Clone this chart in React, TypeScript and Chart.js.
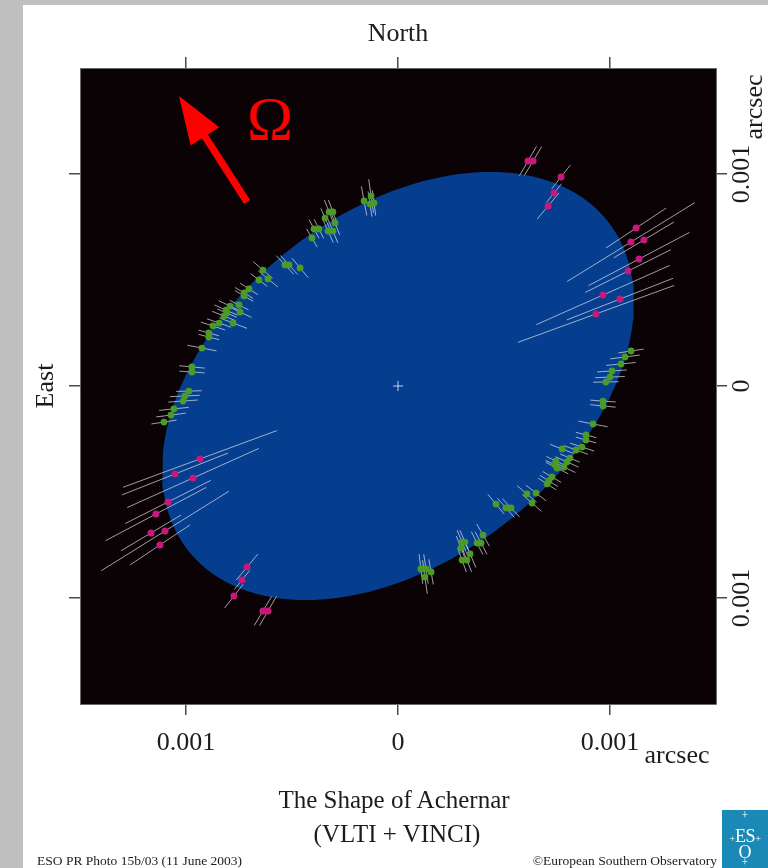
import React, { useEffect, useRef } from 'react';
import { Chart, registerables } from 'chart.js';

Chart.register(...registerables);

// ---- Axes (milli-arcsec internally, labels in arcsec) ----
const AXIS_MIN = -1.5;
const AXIS_MAX = 1.5;
const TICK_VALUES = [-1, 0, 1];
const TICK_LABELS = ['0.001', '0', '0.001'];

// ---- Fitted ellipse of Achernar (mas) ----
const ELLIPSE_SEMI_MAJOR = 1.258;
const ELLIPSE_SEMI_MINOR = 0.822;
const ELLIPSE_ANGLE_DEG = 38;
const ELLIPSE_STEPS = 180;

// ---- Measured limb points: [x, y, error] in mas ----
const MAGENTA_POINTS: [number, number, number][] = [
  [0.613, 1.061, 0.080], [0.637, 1.061, 0.080], [0.769, 0.986, 0.071],
  [0.736, 0.910, 0.057], [0.708, 0.849, 0.080], [1.123, 0.745, 0.170],
  [1.099, 0.679, 0.354], [1.160, 0.689, 0.165], [1.137, 0.599, 0.269],
  [1.085, 0.542, 0.226], [0.967, 0.429, 0.344], [1.047, 0.410, 0.269],
  [0.934, 0.340, 0.392],
  [-0.637, -1.061, 0.080], [-0.613, -1.061, 0.080], [-0.774, -0.991, 0.071],
  [-0.736, -0.915, 0.057], [-0.712, -0.854, 0.080], [-1.123, -0.750, 0.170],
  [-1.099, -0.684, 0.354], [-1.165, -0.693, 0.165], [-1.142, -0.604, 0.269],
  [-1.085, -0.547, 0.226], [-0.967, -0.434, 0.340], [-1.052, -0.415, 0.269],
  [-0.934, -0.344, 0.387],
];

const GREEN_POINTS: [number, number, number][] = [
  [-0.160, 0.873, 0.070], [-0.127, 0.896, 0.080], [-0.132, 0.858, 0.060], [-0.113, 0.863, 0.060],
  [-0.325, 0.821, 0.060], [-0.307, 0.821, 0.060], [-0.344, 0.792, 0.050], [-0.297, 0.769, 0.060],
  [-0.330, 0.731, 0.060], [-0.307, 0.731, 0.060], [-0.396, 0.741, 0.050], [-0.373, 0.741, 0.050],
  [-0.406, 0.698, 0.050], [-0.533, 0.571, 0.060], [-0.514, 0.571, 0.060], [-0.462, 0.557, 0.060],
  [-0.637, 0.547, 0.060], [-0.656, 0.500, 0.050], [-0.613, 0.505, 0.060], [-0.703, 0.458, 0.050],
  [-0.726, 0.439, 0.050], [-0.726, 0.425, 0.050], [-0.792, 0.377, 0.060], [-0.750, 0.382, 0.050],
  [-0.811, 0.358, 0.060], [-0.807, 0.344, 0.050], [-0.745, 0.349, 0.060], [-0.821, 0.330, 0.060],
  [-0.844, 0.297, 0.060], [-0.778, 0.297, 0.070], [-0.873, 0.283, 0.060], [-0.892, 0.250, 0.050],
  [-0.892, 0.231, 0.050], [-0.925, 0.179, 0.070], [-0.972, 0.090, 0.060], [-0.972, 0.066, 0.060],
  [-0.986, -0.024, 0.060], [-1.005, -0.047, 0.070], [-1.014, -0.071, 0.070], [-1.057, -0.108, 0.070],
  [-1.071, -0.137, 0.070], [-1.104, -0.170, 0.060],
  [1.099, 0.165, 0.060], [1.071, 0.137, 0.070], [1.052, 0.104, 0.070], [1.009, 0.071, 0.070],
  [1.000, 0.042, 0.070], [0.981, 0.019, 0.060], [0.967, -0.071, 0.060], [0.967, -0.094, 0.060],
  [0.920, -0.179, 0.070], [0.887, -0.231, 0.050], [0.887, -0.255, 0.050], [0.868, -0.288, 0.060],
  [0.840, -0.302, 0.060], [0.774, -0.297, 0.060], [0.811, -0.340, 0.050], [0.797, -0.358, 0.060],
  [0.745, -0.354, 0.050], [0.741, -0.373, 0.050], [0.750, -0.387, 0.060], [0.783, -0.382, 0.060],
  [0.726, -0.429, 0.050], [0.712, -0.448, 0.050], [0.703, -0.462, 0.050], [0.651, -0.505, 0.060],
  [0.608, -0.509, 0.060], [0.632, -0.552, 0.060], [0.462, -0.557, 0.060], [0.509, -0.575, 0.060],
  [0.533, -0.575, 0.060], [0.401, -0.703, 0.060], [0.373, -0.741, 0.060], [0.392, -0.741, 0.060],
  [0.316, -0.736, 0.060], [0.302, -0.736, 0.060], [0.297, -0.764, 0.060], [0.340, -0.792, 0.070],
  [0.302, -0.821, 0.060], [0.325, -0.821, 0.060], [0.108, -0.863, 0.070], [0.132, -0.863, 0.070],
  [0.156, -0.877, 0.060], [0.127, -0.901, 0.080],
];

const CENTER_POINT = [{ x: 0, y: 0 }];

// rotation axis arrow (mas) and Omega label
const ARROW_TAIL = { x: -0.712, y: 0.868 };
const ARROW_TIP = { x: -1.033, y: 1.368 };
const OMEGA_POS = { x: -0.604, y: 1.165 };

const SERIF = '"Liberation Serif", "Times New Roman", serif';
const TEXT_COLOR = '#1c1c1c';
const PLOT_BG = 'rgb(10,2,4)';
const STAR_BLUE = 'rgb(5,62,142)';
const GREEN = 'rgb(76,155,40)';
const MAGENTA = 'rgb(200,24,122)';
const BAR_COLOR = 'rgba(232,228,234,0.68)';

function ellipseData() {
  const th = (ELLIPSE_ANGLE_DEG * Math.PI) / 180;
  const pts: { x: number; y: number }[] = [];
  for (let i = 0; i <= ELLIPSE_STEPS; i++) {
    const t = (2 * Math.PI * i) / ELLIPSE_STEPS;
    const u = ELLIPSE_SEMI_MAJOR * Math.cos(t);
    const v = ELLIPSE_SEMI_MINOR * Math.sin(t);
    pts.push({ x: u * Math.cos(th) - v * Math.sin(th), y: u * Math.sin(th) + v * Math.cos(th) });
  }
  return pts;
}

function errorBarData() {
  const out: { x: number | null; y: number | null }[] = [];
  [...MAGENTA_POINTS, ...GREEN_POINTS].forEach(([x, y, e]) => {
    const r = Math.hypot(x, y);
    const ux = x / r;
    const uy = y / r;
    out.push({ x: x - e * ux, y: y - e * uy });
    out.push({ x: x + e * ux, y: y + e * uy });
    out.push({ x: null, y: null });
  });
  return out;
}

const tickLabel = (v: number | string) => {
  const i = TICK_VALUES.indexOf(Number(v));
  return i >= 0 ? TICK_LABELS[i] : '';
};

const setTicks = (s: any) => {
  s.ticks = TICK_VALUES.map((v) => ({ value: v }));
};

const gridOpts = {
  drawOnChartArea: false,
  drawTicks: true,
  tickLength: 11,
  color: '#4a4a4a',
  lineWidth: 1.5,
};
const borderOpts = { display: true, color: '#6a6a6a', width: 1 };

const decorPlugin = {
  id: 'decor',
  beforeDraw(chart: any) {
    const { ctx, chartArea } = chart;
    ctx.save();
    ctx.fillStyle = PLOT_BG;
    ctx.fillRect(chartArea.left, chartArea.top, chartArea.right - chartArea.left, chartArea.bottom - chartArea.top);
    ctx.restore();
  },
  afterDraw(chart: any) {
    const { ctx } = chart;
    const xs = chart.scales.x;
    const ys = chart.scales.y;
    const y2 = chart.scales.y2;

    // rotation-axis arrow
    const tx = xs.getPixelForValue(ARROW_TAIL.x);
    const ty = ys.getPixelForValue(ARROW_TAIL.y);
    const hx = xs.getPixelForValue(ARROW_TIP.x);
    const hy = ys.getPixelForValue(ARROW_TIP.y);
    const ang = Math.atan2(hy - ty, hx - tx);
    const len = Math.hypot(hx - tx, hy - ty);
    const headLen = 50;
    const headHalf = 17;
    const shaftHalf = 3.6;
    ctx.save();
    ctx.translate(tx, ty);
    ctx.rotate(ang);
    ctx.fillStyle = '#ff0000';
    ctx.beginPath();
    ctx.moveTo(0, -shaftHalf);
    ctx.lineTo(len - headLen + 2, -shaftHalf);
    ctx.lineTo(len - headLen + 2, -headHalf);
    ctx.lineTo(len, 0);
    ctx.lineTo(len - headLen + 2, headHalf);
    ctx.lineTo(len - headLen + 2, shaftHalf);
    ctx.lineTo(0, shaftHalf);
    ctx.closePath();
    ctx.fill();
    ctx.restore();

    // Omega
    ctx.save();
    ctx.fillStyle = '#ff0000';
    ctx.font = `62px ${SERIF}`;
    ctx.textAlign = 'center';
    ctx.textBaseline = 'alphabetic';
    ctx.fillText('Ω', xs.getPixelForValue(OMEGA_POS.x), ys.getPixelForValue(OMEGA_POS.y));
    ctx.restore();

    // rotated right-hand tick labels
    ctx.save();
    ctx.fillStyle = TEXT_COLOR;
    ctx.font = `26px ${SERIF}`;
    ctx.textAlign = 'center';
    ctx.textBaseline = 'middle';
    TICK_VALUES.forEach((v, i) => {
      ctx.save();
      ctx.translate(y2.left + 26, y2.getPixelForValue(v));
      ctx.rotate(-Math.PI / 2);
      ctx.fillText(TICK_LABELS[i], 0, 0);
      ctx.restore();
    });
    ctx.save();
    ctx.translate(y2.left + 39, chart.chartArea.top + 39);
    ctx.rotate(-Math.PI / 2);
    ctx.fillText('arcsec', 0, 0);
    ctx.restore();
    ctx.restore();
  },
};

function AchernarChart() {
  const ref = useRef<HTMLCanvasElement | null>(null);
  useEffect(() => {
    if (!ref.current) return;
    const tickFont = { family: SERIF, size: 26 };
    const chart = new Chart(ref.current, {
      type: 'scatter',
      data: {
        datasets: [
          {
            label: 'Magenta',
            data: MAGENTA_POINTS.map(([x, y]) => ({ x, y })),
            backgroundColor: MAGENTA,
            borderWidth: 0,
            pointRadius: 3.5,
            order: 0,
          },
          {
            label: 'Green',
            data: GREEN_POINTS.map(([x, y]) => ({ x, y })),
            backgroundColor: GREEN,
            borderWidth: 0,
            pointRadius: 3.4,
            order: 1,
          },
          {
            label: 'Centre',
            data: CENTER_POINT,
            pointStyle: 'cross',
            pointRadius: 5,
            borderColor: 'rgba(210,225,245,0.9)',
            borderWidth: 1,
            order: 2,
          },
          {
            label: 'Errors',
            data: errorBarData() as any,
            showLine: true,
            spanGaps: false,
            borderColor: BAR_COLOR,
            borderWidth: 1,
            pointRadius: 0,
            order: 3,
          },
          {
            label: 'Ellipse',
            data: ellipseData(),
            showLine: true,
            fill: 'shape',
            backgroundColor: STAR_BLUE,
            borderColor: STAR_BLUE,
            borderWidth: 0,
            pointRadius: 0,
            order: 4,
          } as any,
        ],
      },
      options: {
        animation: false,
        responsive: false,
        devicePixelRatio: 1,
        layout: { padding: 0 },
        plugins: { legend: { display: false }, tooltip: { enabled: false }, title: { display: false } },
        scales: {
          x: {
            type: 'linear',
            position: 'bottom',
            min: AXIS_MIN,
            max: AXIS_MAX,
            display: true,
            afterBuildTicks: setTicks,
            afterFit: (s: any) => { s.height = 164; },
            ticks: { callback: tickLabel, font: tickFont, color: TEXT_COLOR, padding: 13, maxRotation: 0, autoSkip: false },
            grid: gridOpts,
            border: borderOpts,
          },
          x2: {
            type: 'linear',
            position: 'top',
            min: AXIS_MIN,
            max: AXIS_MAX,
            display: true,
            afterBuildTicks: setTicks,
            afterFit: (s: any) => { s.height = 68; },
            ticks: { callback: () => '', font: tickFont, padding: 0 },
            grid: gridOpts,
            border: borderOpts,
            title: { display: true, text: 'North', font: tickFont, color: TEXT_COLOR, padding: { top: 19, bottom: 0 } },
          },
          y: {
            type: 'linear',
            position: 'left',
            min: AXIS_MIN,
            max: AXIS_MAX,
            display: true,
            afterBuildTicks: setTicks,
            afterFit: (s: any) => { s.width = 80; },
            ticks: { callback: () => '', font: tickFont, padding: 0 },
            grid: gridOpts,
            border: borderOpts,
            title: { display: true, text: 'East', font: tickFont, color: TEXT_COLOR, padding: { top: 31, bottom: 0 } },
          },
          y2: {
            type: 'linear',
            position: 'right',
            min: AXIS_MIN,
            max: AXIS_MAX,
            display: true,
            afterBuildTicks: setTicks,
            afterFit: (s: any) => { s.width = 52; },
            ticks: { callback: () => '', font: tickFont, padding: 0 },
            grid: gridOpts,
            border: borderOpts,
          },
        },
      },
      plugins: [decorPlugin],
    } as any);
    return () => chart.destroy();
  }, []);
  return (
    <canvas
      ref={ref}
      width={768}
      height={868}
      style={{ position: 'absolute', left: 0, top: 0, width: 768, height: 868 }}
    />
  );
}

const txt = (extra: React.CSSProperties): React.CSSProperties => ({
  position: 'absolute',
  fontFamily: SERIF,
  color: TEXT_COLOR,
  lineHeight: 1,
  whiteSpace: 'nowrap',
  ...extra,
});

const logoLine = (top: number, size: number): React.CSSProperties => ({
  position: 'absolute',
  left: 0,
  width: 46,
  top,
  textAlign: 'center',
  fontSize: size,
  lineHeight: `${size}px`,
});

export default function App() {
  return (
    <div style={{ position: 'fixed', left: 0, top: 0, width: 768, height: 868, background: '#c0c0c0', overflow: 'hidden' }}>
      <div style={{ position: 'absolute', left: 23, top: 5, width: 745, height: 863, background: '#ffffff' }} />
      <AchernarChart />
      <div style={txt({ left: 677, top: 742, fontSize: 26, transform: 'translateX(-50%)' })}>arcsec</div>
      <div style={txt({ left: 394, top: 787, fontSize: 25, transform: 'translateX(-50%)' })}>The Shape of Achernar</div>
      <div style={txt({ left: 397, top: 821, fontSize: 25, transform: 'translateX(-50%)' })}>(VLTI + VINCI)</div>
      <div style={txt({ left: 37, top: 854, fontSize: 13.5 })}>ESO PR Photo 15b/03 (11 June 2003)</div>
      <div style={txt({ right: 51, top: 854, fontSize: 13.5 })}>©European Southern Observatory</div>
      <div style={{ position: 'absolute', left: 722, top: 810, width: 46, height: 58, background: '#1b89b5', color: '#ffffff', fontFamily: SERIF }}>
        <div style={logoLine(-1, 12)}>+</div>
        <div style={{ ...logoLine(17, 18), letterSpacing: -0.5 }}>
          <span style={{ fontSize: 11 }}>+</span>ES<span style={{ fontSize: 11 }}>+</span>
        </div>
        <div style={logoLine(33, 18)}>O</div>
        <div style={logoLine(46, 12)}>+</div>
      </div>
    </div>
  );
}
